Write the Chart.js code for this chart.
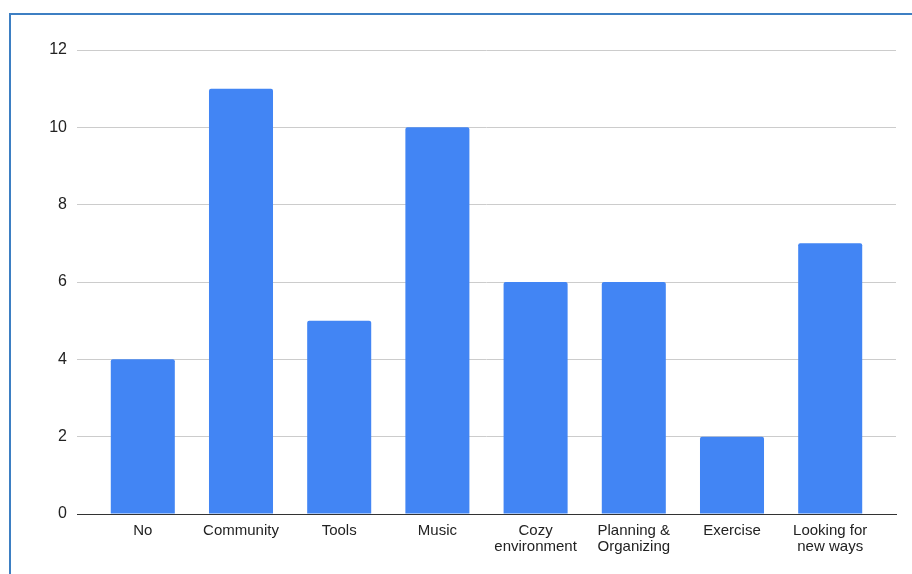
<!DOCTYPE html>
<html>
<head>
<meta charset="utf-8">
<script src="https://cdn.jsdelivr.net/npm/chart.js@4/dist/chart.umd.min.js"></script>
<style>
  html, body { margin: 0; padding: 0; background: #fff; overflow: hidden; }
  .frame { position: absolute; left: 9px; top: 13px; width: 1000px; height: 700px;
           border-left: 2px solid #3d7fc3; border-top: 2px solid #3d7fc3; }
  .wrap { position: absolute; left: 0; top: 0; width: 912px; height: 574px; }
</style>
</head>
<body>
<div class="frame"></div>
<div class="wrap"><canvas id="c" width="912" height="574"></canvas></div>
<script>
const categories = ['No', 'Community', 'Tools', 'Music', ['Cozy', 'environment'], ['Planning &', 'Organizing'], 'Exercise', ['Looking for', 'new ways']];
const counts = [4, 11, 5, 10, 6, 6, 2, 7];
const yTicks = [0, 2, 4, 6, 8, 10, 12];

const font = 'Liberation Sans, Arial, sans-serif';

new Chart(document.getElementById('c'), {
  type: 'bar',
  data: {
    datasets: [{
      data: counts.map((v, i) => ({ x: i, y: v })),
      backgroundColor: '#4285f4',
      borderWidth: 0,
      borderRadius: { topLeft: 2, topRight: 2, bottomLeft: 0, bottomRight: 0 },
      borderSkipped: 'bottom',
      barPercentage: 0.652,
      categoryPercentage: 1.0
    }]
  },
  options: {
    responsive: false,
    animation: false,
    layout: { padding: { top: 50, right: 16, left: 0, bottom: 0 } },
    plugins: { legend: { display: false }, tooltip: { enabled: false } },
    scales: {
      x: {
        type: 'linear',
        offset: false,
        min: -0.67, max: 7.67,
        afterBuildTicks: s => { s.ticks = categories.map((_, i) => ({ value: i })); },
        grid: { display: false, drawTicks: false, offset: false },
        border: { display: true, color: '#333', width: 1 },
        ticks: {
          color: '#222', font: { family: font, size: 15, lineHeight: 1.05 },
          padding: 9, maxRotation: 0, autoSkip: false,
          callback: v => categories[v]
        },
        afterFit: s => { s.height = 60; }
      },
      y: {
        min: 0, max: 12,
        afterBuildTicks: s => { s.ticks = yTicks.map(v => ({ value: v })); },
        grid: { color: '#cccccc', lineWidth: 1, drawTicks: false },
        border: { display: false },
        ticks: { color: '#222', font: { family: font, size: 16 }, padding: 10 },
        afterFit: s => { s.width = 77; }
      }
    }
  }
});
</script>
</body>
</html>
